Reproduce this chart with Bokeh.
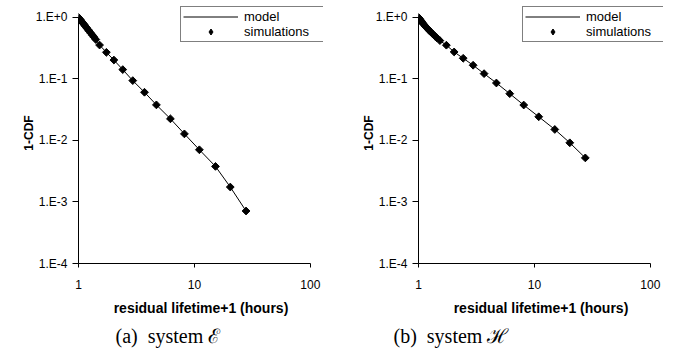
from bokeh.plotting import figure
from bokeh.layouts import row
from bokeh.models import FixedTicker, Legend, LegendItem, Title
from bokeh.embed import file_html
from bokeh.resources import INLINE
import numpy as np

# ---- data ----
x_ticks = [1, 10, 100]
x_tick_labels = ["1", "10", "100"]
y_ticks = [1, 0.1, 0.01, 0.001, 0.0001]
y_tick_labels = ["1.E+0", "1.E-1", "1.E-2", "1.E-3", "1.E-4"]

# system E
e_sim_x = [1.00, 1.02, 1.04, 1.06, 1.08, 1.10, 1.12, 1.15, 1.18, 1.21, 1.24, 1.28, 1.32, 1.36, 1.41,
           1.52, 1.74, 2.02, 2.41, 2.94, 3.71, 4.70, 6.21, 8.20, 11.04, 15.2, 20.4, 27.9]
e_sim_y = [1.000, 0.953, 0.910, 0.869, 0.831, 0.795, 0.762, 0.714, 0.672, 0.632, 0.597, 0.553, 0.514, 0.478, 0.438,
           0.356, 0.271, 0.203, 0.142, 0.094, 0.0608, 0.0379, 0.0225, 0.0128, 0.00706, 0.00379, 0.00175, 0.000714]
e_model_x = [1.00, 1.02, 1.04, 1.06, 1.08, 1.10, 1.12, 1.15, 1.18, 1.21, 1.24, 1.28, 1.32, 1.36, 1.41,
             1.52, 1.74, 2.02, 2.41, 2.94, 3.71, 4.70, 6.21, 8.20, 11.04, 15.2, 20.4, 27.9]
e_model_y = [1.000, 0.953, 0.910, 0.869, 0.831, 0.795, 0.762, 0.714, 0.672, 0.632, 0.597, 0.553, 0.514, 0.478, 0.438,
             0.356, 0.271, 0.203, 0.142, 0.094, 0.0608, 0.0379, 0.0225, 0.0128, 0.00706, 0.00379, 0.00175, 0.000714]

# system H
h_sim_x = [1.00, 1.01, 1.02, 1.03, 1.05, 1.07, 1.09, 1.11, 1.14, 1.17, 1.20, 1.24, 1.28, 1.33, 1.38, 1.44,
           1.53, 1.74, 2.03, 2.43, 2.96, 3.68, 4.70, 6.13, 8.09, 10.9, 15.0, 20.2, 27.5]
h_sim_y = [1.000, 0.975, 0.951, 0.927, 0.881, 0.841, 0.805, 0.771, 0.726, 0.686, 0.652, 0.612, 0.577, 0.537, 0.502, 0.466,
           0.420, 0.354, 0.275, 0.217, 0.167, 0.122, 0.086, 0.0576, 0.0377, 0.0243, 0.0151, 0.00917, 0.00521]
h_model_x = [1.00, 1.01, 1.02, 1.03, 1.05, 1.07, 1.09, 1.11, 1.14, 1.17, 1.20, 1.24, 1.28, 1.33, 1.38, 1.44,
             1.53, 1.74, 2.03, 2.43, 2.96, 3.68, 4.70, 6.13, 8.09, 10.9, 15.0, 20.2, 27.5]
h_model_y = [1.000, 0.975, 0.951, 0.927, 0.881, 0.841, 0.805, 0.771, 0.726, 0.686, 0.652, 0.612, 0.577, 0.537, 0.502, 0.466,
             0.420, 0.354, 0.275, 0.217, 0.167, 0.122, 0.086, 0.0576, 0.0377, 0.0243, 0.0151, 0.00917, 0.00521]

x_title = "residual lifetime+1 (hours)"
y_title = "1-CDF"
captions = ["(a)\u00a0 system \u2130", "(b)\u00a0 system \u210B"]
legend_labels = ["model", "simulations"]

SANS = "Liberation Sans"
SERIF = "Liberation Serif"

H = 360
FRAME_W = 245   # x 1..130 on a log scale (axis drawn 1..100)
FRAME_H = 261   # y 1e-4..1.75 on a log scale (axis drawn 1e-4..1)
TOP = 2


def make(fig_w, border_left, sx, sy, mx, my, caption, cap_off, leg_x):
    p = figure(width=fig_w, height=H, x_axis_type="log", y_axis_type="log",
               x_range=(1, 130), y_range=(1e-4, 1.75),
               output_backend="svg", toolbar_location=None,
               min_border_left=border_left, min_border_right=fig_w - border_left - FRAME_W,
               min_border_top=TOP, min_border_bottom=H - TOP - FRAME_H)
    p.outline_line_color = None
    p.xgrid.visible = False
    p.ygrid.visible = False
    p.background_fill_color = "white"
    p.border_fill_color = "white"

    r_line = p.line(mx, my, line_color="black", line_width=1)
    p.scatter(sx, sy, marker="square", size=5.5, angle=np.pi / 4,
              fill_color="black", line_color="black")
    # legend swatch for the simulations (diamond), not drawn in the frame
    r_leg = p.scatter(sx, sy, marker="diamond", size=9, fill_color="black",
                      line_color="black", visible=False)

    for ax in (p.xaxis[0], p.yaxis[0]):
        ax.axis_line_color = "black"
        ax.major_tick_line_color = "black"
        ax.minor_tick_line_color = None
        ax.major_tick_in = 0
        ax.major_label_text_font = SANS
        ax.major_label_text_font_size = "12px"
        ax.major_label_text_color = "black"
        ax.axis_label_text_font = SANS
        ax.axis_label_text_font_style = "bold"
        ax.axis_label_text_color = "black"

    p.xaxis.bounds = (1, 100)
    p.xaxis.ticker = FixedTicker(ticks=x_ticks, minor_ticks=[])
    p.xaxis.major_label_overrides = {float(t): l for t, l in zip(x_ticks, x_tick_labels)}
    p.xaxis.major_tick_out = 4
    p.xaxis.major_label_standoff = 12
    p.xaxis.axis_label = x_title
    p.xaxis.axis_label_text_font_size = "14px"
    p.xaxis.axis_label_standoff = 8

    p.yaxis.bounds = (1e-4, 1)
    p.yaxis.ticker = FixedTicker(ticks=y_ticks, minor_ticks=[])
    p.yaxis.major_label_overrides = {float(t): l for t, l in zip(y_ticks, y_tick_labels)}
    p.yaxis.major_tick_out = 6
    p.yaxis.major_label_standoff = 5
    p.yaxis.axis_label = y_title
    p.yaxis.axis_label_text_font_size = "12px"
    p.yaxis.axis_label_standoff = -3

    legend = Legend(items=[LegendItem(label=legend_labels[0], renderers=[r_line]),
                           LegendItem(label=legend_labels[1], renderers=[r_leg])],
                    location=(leg_x, 221), margin=0, padding=2, spacing=0,
                    glyph_width=55, glyph_height=15, label_height=15, label_width=77,
                    label_standoff=6, label_text_font=SANS, label_text_font_size="13px",
                    label_text_color="black",
                    border_line_color="black", border_line_width=1,
                    background_fill_color="white", background_fill_alpha=1.0,
                    inactive_fill_alpha=0.0)
    p.add_layout(legend)

    p.add_layout(Title(text=caption, align="left", offset=cap_off, standoff=8,
                       text_font=SERIF, text_font_size="20px", text_font_style="normal",
                       text_color="black"), "below")
    return p


p1 = make(342, 78, e_sim_x, e_sim_y, e_model_x, e_model_y, captions[0], 37, 102)
p2 = make(343, 76, h_sim_x, h_sim_y, h_model_x, h_model_y, captions[1], -25, 104)

layout = row(p1, p2)
open("out.html", "w").write(file_html(layout, INLINE))
